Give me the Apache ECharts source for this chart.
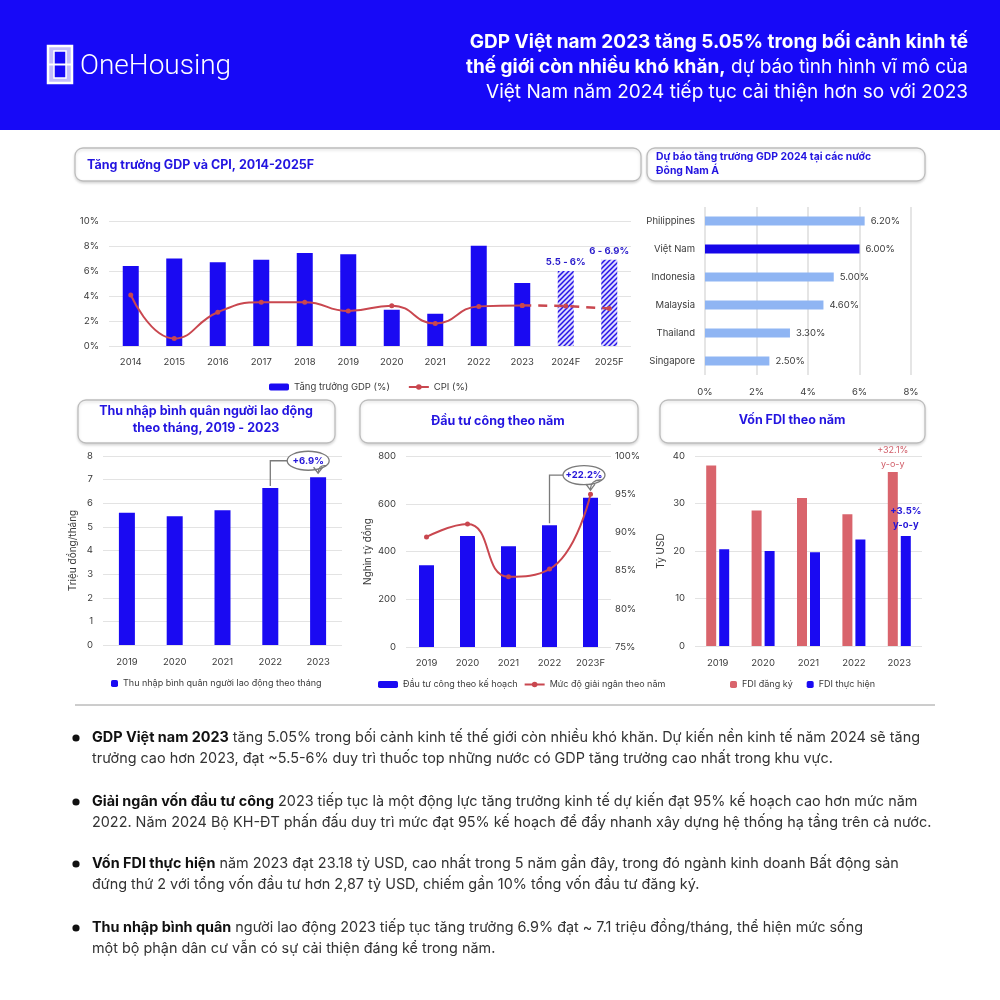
<!DOCTYPE html>
<html>
<head>
<meta charset="utf-8">
<script src="https://cdn.jsdelivr.net/npm/echarts@6/dist/echarts.min.js"></script>
<style>
html,body{margin:0;padding:0;background:#fff;}
#c{width:1000px;height:1000px;}
</style>
</head>
<body>
<div id="c"></div>
<script>
// ---------- DATA ----------
const gdpYears = ['2014','2015','2016','2017','2018','2019','2020','2021','2022','2023','2024F','2025F'];
const gdpGrowth = [6.4, 7.0, 6.7, 6.9, 7.45, 7.35, 2.9, 2.58, 8.02, 5.05, 6.0, 6.9];
const cpiValues = [4.08, 0.6, 2.7, 3.5, 3.5, 2.8, 3.23, 1.8, 3.17, 3.25, 3.2, 3.0];
const gdpForecastLabels = {'2024F': '5.5 - 6%', '2025F': '6 - 6.9%'};

const aseanCountries = ['Philippines','Việt Nam','Indonesia','Malaysia','Thailand','Singapore'];
const aseanGdp2024 = [6.2, 6.0, 5.0, 4.6, 3.3, 2.5];

const incomeYears = ['2019','2020','2021','2022','2023'];
const incomeValues = [5.6, 5.45, 5.7, 6.65, 7.1];

const investYears = ['2019','2020','2021','2022','2023F'];
const investPlan = [342, 465, 422, 510, 625];
const disburseRate = [89.4, 91.1, 84.2, 85.2, 95.0];

const fdiYears = ['2019','2020','2021','2022','2023'];
const fdiRegistered = [38.02, 28.53, 31.15, 27.72, 36.61];
const fdiDisbursed = [20.38, 19.98, 19.74, 22.4, 23.18];

// ---------- STYLE ----------
const BLUE = '#1a0af2';
const TITLE_BLUE = '#2314e0';
const RED = '#c9474f';
const FDI_RED = '#d9646c';
const LIGHT_BLUE = '#8fb5f3';
const AX = '#3a3a3a';
const GRID_C = '#e3e3e3';
const FF = 'Inter, "Noto Sans", sans-serif';

function hatchCanvas(){
  const c = document.createElement('canvas');
  c.width = 5; c.height = 5;
  const g = c.getContext('2d');
  g.fillStyle = '#dcdaff'; g.fillRect(0,0,5,5);
  g.strokeStyle = '#2612e6'; g.lineWidth = 1.5;
  g.beginPath();
  g.moveTo(0,5); g.lineTo(5,0);
  g.moveTo(-2.5,2.5); g.lineTo(2.5,-2.5);
  g.moveTo(2.5,7.5); g.lineTo(7.5,2.5);
  g.stroke();
  return c;
}
const hatch = {image: hatchCanvas(), repeat: 'repeat'};

const axLabel = {color: AX, fontSize: 9.5, fontFamily: FF};
const splitL = {show: true, lineStyle: {color: GRID_C, width: 1}};

const chart = echarts.init(document.getElementById('c'), null, {renderer: 'canvas'});

const gdpBarData = gdpGrowth.map((v, i) => {
  const y = gdpYears[i];
  if (gdpForecastLabels[y]) {
    return {value: v, itemStyle: {color: hatch},
      label: {show: true, position: 'top', distance: 4, formatter: gdpForecastLabels[y],
        color: '#2a1ccc', fontSize: 9.5, fontWeight: 'bold', fontFamily: FF}};
  }
  return v;
});
const cpiActual = cpiValues.map((v, i) => i <= 9 ? v : null);
const cpiForecast = cpiValues.map((v, i) => i >= 9 ? v : null);

const option = {
  animation: false,
  textStyle: {fontFamily: FF},
  grid: [
    {left: 109, right: 369, top: 221, bottom: 654},
    {left: 705, right: 89, top: 207, bottom: 625},
    {left: 103, right: 658, top: 456, bottom: 355},
    {left: 406, right: 389, top: 456, bottom: 353},
    {left: 695, right: 78, top: 456, bottom: 354}
  ],
  xAxis: [
    {gridIndex: 0, type: 'category', data: gdpYears, axisLine: {show: false}, axisTick: {show: false},
      axisLabel: Object.assign({margin: 11}, axLabel)},
    {gridIndex: 1, type: 'value', min: 0, max: 8, interval: 2, splitLine: {show: true, lineStyle: {color: '#dddddd', width: 1.5}},
      axisLabel: Object.assign({margin: 12, formatter: '{value}%'}, axLabel)},
    {gridIndex: 2, type: 'category', data: incomeYears, axisLine: {show: false}, axisTick: {show: false},
      axisLabel: Object.assign({margin: 12}, axLabel)},
    {gridIndex: 3, type: 'category', data: investYears, axisLine: {show: false}, axisTick: {show: false},
      axisLabel: Object.assign({margin: 11}, axLabel)},
    {gridIndex: 4, type: 'category', data: fdiYears, axisLine: {show: false}, axisTick: {show: false},
      axisLabel: Object.assign({margin: 12}, axLabel)}
  ],
  yAxis: [
    {gridIndex: 0, type: 'value', min: 0, max: 10, interval: 2, splitLine: splitL,
      axisLabel: Object.assign({formatter: '{value}%', margin: 10}, axLabel)},
    {gridIndex: 1, type: 'category', data: aseanCountries, inverse: true, axisLine: {show: false}, axisTick: {show: false},
      axisLabel: Object.assign({margin: 10}, axLabel)},
    {gridIndex: 2, type: 'value', min: 0, max: 8, interval: 1, splitLine: splitL,
      name: 'Triệu đồng/tháng', nameLocation: 'middle', nameGap: 25, nameTextStyle: {color: AX, fontSize: 10, fontFamily: FF},
      axisLabel: Object.assign({margin: 10}, axLabel)},
    {gridIndex: 3, type: 'value', min: 0, max: 800, interval: 200, splitLine: splitL,
      name: 'Nghìn tỷ đồng', nameLocation: 'middle', nameGap: 33, nameTextStyle: {color: AX, fontSize: 10, fontFamily: FF},
      axisLabel: Object.assign({margin: 10}, axLabel)},
    {gridIndex: 3, type: 'value', position: 'right', min: 75, max: 100, interval: 5, splitLine: {show: false},
      axisLabel: Object.assign({formatter: '{value}%', margin: 4}, axLabel)},
    {gridIndex: 4, type: 'value', min: 0, max: 40, interval: 10, splitLine: splitL,
      name: 'Tỷ USD', nameLocation: 'middle', nameGap: 29, nameTextStyle: {color: AX, fontSize: 10, fontFamily: FF},
      axisLabel: Object.assign({margin: 10}, axLabel)}
  ],
  legend: [
    {data: ['Tăng trưởng GDP (%)', 'CPI (%)'], left: 264, top: 377, itemWidth: 20, itemHeight: 7, itemGap: 18,
      textStyle: {fontSize: 9.5, color: AX, fontFamily: FF}},
    {data: ['Thu nhập bình quân người lao động theo tháng'], left: 106, top: 674, itemWidth: 7, itemHeight: 7, itemGap: 6,
      textStyle: {fontSize: 9, color: AX, fontFamily: FF}},
    {data: ['Đầu tư công theo kế hoạch', 'Mức độ giải ngân theo năm'], left: 373, top: 675, itemWidth: 20, itemHeight: 7, itemGap: 6,
      textStyle: {fontSize: 9, color: AX, fontFamily: FF}},
    {data: ['FDI đăng ký', 'FDI thực hiện'], left: 725, top: 675, itemWidth: 7, itemHeight: 7, itemGap: 14,
      textStyle: {fontSize: 9, color: AX, fontFamily: FF}}
  ],
  series: [
    {name: 'Tăng trưởng GDP (%)', type: 'bar', xAxisIndex: 0, yAxisIndex: 0, barWidth: 16,
      itemStyle: {color: BLUE}, data: gdpBarData},
    {name: 'CPI (%)', type: 'line', xAxisIndex: 0, yAxisIndex: 0, smooth: 0.5, symbol: 'circle', symbolSize: 5,
      lineStyle: {color: RED, width: 2}, itemStyle: {color: RED}, data: cpiActual, z: 5},
    {name: 'CPI (%)', type: 'line', xAxisIndex: 0, yAxisIndex: 0, smooth: false, symbol: 'circle', symbolSize: 5,
      lineStyle: {color: RED, width: 2.5, type: [9, 7]}, itemStyle: {color: RED}, data: cpiForecast, z: 5},

    {name: 'asean', type: 'bar', xAxisIndex: 1, yAxisIndex: 1, barWidth: 9,
      data: aseanGdp2024.map((v, i) => ({value: v, itemStyle: {color: aseanCountries[i] === 'Việt Nam' ? '#1606e8' : LIGHT_BLUE}})),
      label: {show: true, position: 'right', distance: 6, color: AX, fontSize: 9.5, fontFamily: FF,
        formatter: p => p.value.toFixed(2) + '%'}},

    {name: 'Thu nhập bình quân người lao động theo tháng', type: 'bar', xAxisIndex: 2, yAxisIndex: 2, barWidth: 16,
      itemStyle: {color: BLUE}, data: incomeValues},

    {name: 'Đầu tư công theo kế hoạch', type: 'bar', xAxisIndex: 3, yAxisIndex: 3, barWidth: 15,
      itemStyle: {color: BLUE}, data: investPlan},
    {name: 'Mức độ giải ngân theo năm', type: 'line', xAxisIndex: 3, yAxisIndex: 4, smooth: 0.5, symbol: 'circle', symbolSize: 5,
      lineStyle: {color: RED, width: 2}, itemStyle: {color: RED}, data: disburseRate, z: 5},

    {name: 'FDI đăng ký', type: 'bar', xAxisIndex: 4, yAxisIndex: 5, barWidth: 10, barGap: '30%',
      itemStyle: {color: FDI_RED},
      data: fdiRegistered.map((v, i) => i === fdiRegistered.length - 1 ? {value: v,
        label: {show: true, position: 'top', distance: 1, formatter: '+32.1%\ny-o-y', color: '#d05d68', fontSize: 9, lineHeight: 14, fontFamily: FF}} : v)},
    {name: 'FDI thực hiện', type: 'bar', xAxisIndex: 4, yAxisIndex: 5, barWidth: 10,
      itemStyle: {color: BLUE},
      data: fdiDisbursed.map((v, i) => i === fdiDisbursed.length - 1 ? {value: v,
        label: {show: true, position: 'top', distance: 4, formatter: '+3.5%\ny-o-y', color: '#2314d8', fontSize: 9.5, fontWeight: 'bold', lineHeight: 14, fontFamily: FF}} : v)}
  ]
};
chart.setOption(option);

// ---------- GRAPHICS ----------
function box(x, y, w, h){
  return {type: 'rect', shape: {x: x, y: y, width: w, height: h, r: 8}, z: 1,
    style: {fill: '#fff', stroke: '#bdbdbd', lineWidth: 1.3, shadowBlur: 3, shadowOffsetY: 1.5, shadowColor: 'rgba(0,0,0,0.15)'}};
}
function txt(x, y, text, font, fill, align, z){
  return {type: 'text', x: x, y: y, z: z || 3, style: {text: text, font: font, fill: fill, textAlign: align || 'left', textVerticalAlign: 'middle'}};
}
const HB = 'bold 19px Inter, sans-serif';
const HN = '19px Inter, sans-serif';
const BF = '14.4px Inter, sans-serif';
const BB = 'bold 14.4px Inter, sans-serif';

function richLine(x, y, parts){
  return {type: 'text', x: x, y: y, z: 3, style: {text: parts, textVerticalAlign: 'middle', fill: '#222',
    rich: {b: {font: BB, fill: '#111'}, n: {font: BF, fill: '#333'}}}};
}

const g = [];
// header
g.push({type: 'rect', shape: {x: 0, y: 0, width: 1000, height: 130}, style: {fill: '#1709f7'}, z: 0});
// logo icon
g.push({type: 'rect', shape: {x: 48, y: 46, width: 24, height: 37}, style: {fill: '#c3bdfc', stroke: '#ffffff', lineWidth: 2.5}, z: 2});
g.push({type: 'rect', shape: {x: 54, y: 51, width: 12, height: 27}, style: {fill: '#1709f7', stroke: '#ffffff', lineWidth: 1.5}, z: 2});
g.push({type: 'line', shape: {x1: 48, y1: 64.5, x2: 72, y2: 64.5}, style: {stroke: '#ffffff', lineWidth: 2}, z: 2});
g.push(txt(80, 67, 'OneHousing', '300 28px Roboto, sans-serif', '#ffffff'));
// header title
g.push({type: 'text', x: 968, y: 42, z: 3, style: {text: '{b|GDP Việt nam 2023 tăng 5.05% trong bối cảnh kinh tế}', textAlign: 'right', textVerticalAlign: 'middle',
  rich: {b: {font: HB, fill: '#fff'}}}});
g.push({type: 'text', x: 968, y: 67, z: 3, style: {text: '{b|thế giới còn nhiều khó khăn,}{n| dự báo tình hình vĩ mô của}', textAlign: 'right', textVerticalAlign: 'middle',
  rich: {b: {font: HB, fill: '#fff'}, n: {font: HN, fill: '#fff'}}}});
g.push({type: 'text', x: 968, y: 92, z: 3, style: {text: '{n|Việt Nam năm 2024 tiếp tục cải thiện hơn so với 2023}', textAlign: 'right', textVerticalAlign: 'middle',
  rich: {n: {font: HN, fill: '#fff'}}}});

// chart title boxes
g.push(box(75, 148, 566, 33));
g.push(txt(87, 165, 'Tăng trưởng GDP và CPI, 2014-2025F', 'bold 12.5px Inter, sans-serif', TITLE_BLUE));
g.push(box(647, 148, 278, 33));
g.push(txt(656, 157, 'Dự báo tăng trưởng GDP 2024 tại các nước', 'bold 10.4px Inter, sans-serif', TITLE_BLUE));
g.push(txt(656, 171, 'Đông Nam Á', 'bold 10.4px Inter, sans-serif', TITLE_BLUE));
g.push(box(78, 400, 257, 43));
g.push(txt(206, 411, 'Thu nhập bình quân người lao động', 'bold 12.5px Inter, sans-serif', TITLE_BLUE, 'center'));
g.push(txt(206, 428, 'theo tháng, 2019 - 2023', 'bold 12.5px Inter, sans-serif', TITLE_BLUE, 'center'));
g.push(box(360, 400, 278, 43));
g.push(txt(498, 421, 'Đầu tư công theo năm', 'bold 12.5px Inter, sans-serif', TITLE_BLUE, 'center'));
g.push(box(660, 400, 265, 43));
g.push(txt(792, 420, 'Vốn FDI theo năm', 'bold 12.5px Inter, sans-serif', TITLE_BLUE, 'center'));

// separator
g.push({type: 'line', shape: {x1: 75, y1: 705, x2: 935, y2: 705}, style: {stroke: '#9a9a9a', lineWidth: 1}, z: 2});

// bullets
const bullets = [
  {y: 738, l1: '{b|GDP Việt nam 2023}{n| tăng 5.05% trong bối cảnh kinh tế thế giới còn nhiều khó khăn. Dự kiến nền kinh tế năm 2024 sẽ tăng}',
    l2: 'trưởng cao hơn 2023, đạt ~5.5-6% duy trì thuốc top những nước có GDP tăng trưởng cao nhất trong khu vực.'},
  {y: 802, l1: '{b|Giải ngân vốn đầu tư công}{n| 2023 tiếp tục là một động lực tăng trưởng kinh tế dự kiến đạt 95% kế hoạch cao hơn mức năm}',
    l2: '2022. Năm 2024 Bộ KH-ĐT phấn đấu duy trì mức đạt 95% kế hoạch để đẩy nhanh xây dựng hệ thống hạ tầng trên cả nước.'},
  {y: 864, l1: '{b|Vốn FDI thực hiện}{n| năm 2023 đạt 23.18 tỷ USD, cao nhất trong 5 năm gần đây, trong đó ngành kinh doanh Bất động sản}',
    l2: 'đứng thứ 2 với tổng vốn đầu tư hơn 2,87 tỷ USD, chiếm gần 10% tổng vốn đầu tư đăng ký.'},
  {y: 928, l1: '{b|Thu nhập bình quân}{n| người lao động 2023 tiếp tục tăng trưởng 6.9% đạt ~ 7.1 triệu đồng/tháng, thể hiện mức sống}',
    l2: 'một bộ phận dân cư vẫn có sự cải thiện đáng kể trong năm.'}
];
bullets.forEach(b => {
  g.push({type: 'circle', shape: {cx: 76, cy: b.y, r: 3.6}, style: {fill: '#111'}, z: 3});
  g.push(richLine(92, b.y, b.l1));
  g.push(richLine(92, b.y + 21, '{n|' + b.l2 + '}'));
});

// annotations derived from data positions
function bracket(gridSel, yAxSel, fromCat, fromVal, toCat, toVal, capVal, label){
  const a = chart.convertToPixel(gridSel, [fromCat, fromVal]);
  const bpt = chart.convertToPixel(yAxSel, [toCat, toVal]);
  const cy = chart.convertToPixel(gridSel, [fromCat, capVal])[1];
  const rx = 21, ry = 9.5;
  const cx = (a[0] + bpt[0]) / 2 + 14;
  const st = {stroke: '#7a7a7a', lineWidth: 1.3, fill: null};
  g.push({type: 'polyline', shape: {points: [[a[0], a[1] - 2], [a[0], cy], [cx - rx, cy]]}, style: st, z: 4});
  g.push({type: 'ellipse', shape: {cx: cx, cy: cy, rx: rx, ry: ry}, style: {stroke: '#7a7a7a', lineWidth: 1.3, fill: '#fff'}, z: 4});
  g.push(txt(cx, cy, label, 'bold 9.5px Inter, sans-serif', '#2314d8', 'center', 6));
  g.push({type: 'bezierCurve', shape: {x1: cx + rx - 3, y1: cy + 5, x2: bpt[0], y2: bpt[1] - 4, cpx1: bpt[0], cpy1: cy + 4}, style: st, z: 4});
  g.push({type: 'polyline', shape: {points: [[bpt[0] - 4.5, bpt[1] - 10], [bpt[0], bpt[1] - 4], [bpt[0] + 4.5, bpt[1] - 10]]}, style: st, z: 4});
}
bracket({xAxisIndex: 2, yAxisIndex: 2}, {xAxisIndex: 2, yAxisIndex: 2}, incomeYears[3], incomeValues[3], incomeYears[4], incomeValues[4], 7.8, '+6.9%');
bracket({xAxisIndex: 3, yAxisIndex: 3}, {xAxisIndex: 3, yAxisIndex: 4}, investYears[3], investPlan[3], investYears[4], disburseRate[4], 720, '+22.2%');

chart.setOption({graphic: g});
</script>
</body>
</html>
